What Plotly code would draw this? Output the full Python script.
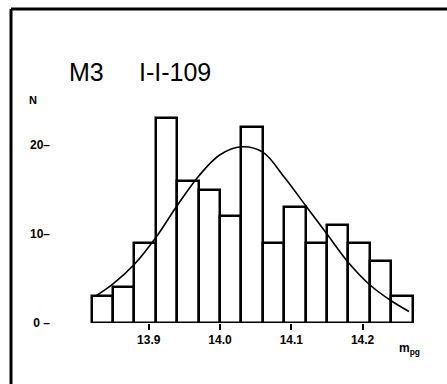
import plotly.graph_objects as go

# ---- data ----
bin_left = [13.82, 13.85, 13.88, 13.91, 13.94, 13.97, 14.00, 14.03,
            14.06, 14.09, 14.12, 14.15, 14.18, 14.21, 14.24]
counts = [3, 4, 9, 23, 16, 15, 12, 22, 9, 13, 9, 11, 9, 7, 3]
bin_width = 0.03

curve_x = [13.825, 13.85, 13.88, 13.91, 13.94, 13.97, 14.00, 14.03, 14.06,
           14.09, 14.12, 14.15, 14.18, 14.21, 14.24, 14.265]
curve_y = [3.0, 4.4, 6.6, 9.6, 13.2, 16.5, 18.9, 19.8, 19.2,
           16.4, 13.2, 10.0, 6.8, 4.3, 2.5, 1.3]

x_tick_vals = [13.9, 14.0, 14.1, 14.2]
x_tick_text = ["13.9", "14.0", "14.1", "14.2"]
y_tick_vals = [0, 10, 20]
y_tick_text = ["0 \u2013", "10\u2013", "20\u2013"]

# ---- layout geometry (pixels) ----
W, H = 447, 384
ML, MR, MT, MB = 60, 20, 40, 61
PW, PH = W - ML - MR, H - MT - MB

def px(xp):
    return (xp - ML) / PW

def py(yp):
    return (H - MB - yp) / PH

centers = [b + bin_width / 2 for b in bin_left]

fig = go.Figure()
fig.add_trace(go.Bar(
    x=centers, y=counts, width=bin_width,
    marker=dict(color="white", line=dict(color="black", width=2.5)),
    cliponaxis=False, showlegend=False, hoverinfo="skip",
))
fig.add_trace(go.Scatter(
    x=curve_x, y=curve_y, mode="lines",
    line=dict(color="black", width=1.6, shape="spline", smoothing=1.0),
    cliponaxis=False, showlegend=False, hoverinfo="skip",
))

tick_font = dict(family="Liberation Sans Narrow, Liberation Sans, Arial, sans-serif",
                 size=12, color="black", weight="bold")

fig.update_layout(
    width=W, height=H,
    margin=dict(l=ML, r=MR, t=MT, b=MB, pad=0),
    paper_bgcolor="white", plot_bgcolor="white",
    bargap=0,
    xaxis=dict(
        range=[13.7756, 14.2903], showgrid=False, zeroline=False, showline=False,
        tickmode="array", tickvals=x_tick_vals, ticktext=x_tick_text,
        ticks="outside", ticklen=6, tickwidth=2, tickcolor="black",
        tickfont=tick_font, fixedrange=True,
    ),
    yaxis=dict(
        range=[0, PH / 8.9], showgrid=False, zeroline=False, showline=False,
        tickmode="array", tickvals=y_tick_vals, ticktext=y_tick_text,
        ticks="", ticklabelstandoff=9,
        tickfont=tick_font, fixedrange=True,
    ),
    font=dict(family="Liberation Sans, Arial, sans-serif", color="black"),
    shapes=[
        dict(type="line", xref="paper", yref="paper",
             x0=px(11), x1=px(447), y0=py(9), y1=py(9),
             line=dict(color="black", width=3)),
        dict(type="line", xref="paper", yref="paper",
             x0=px(11), x1=px(11), y0=py(9), y1=py(384),
             line=dict(color="black", width=3)),
    ],
    annotations=[
        dict(text="M3", xref="paper", yref="paper", x=px(67), y=py(72),
             xanchor="left", yanchor="middle", showarrow=False,
             font=dict(family="Liberation Sans, Arial, sans-serif", size=25)),
        dict(text="I-I-109", xref="paper", yref="paper", x=px(137), y=py(72),
             xanchor="left", yanchor="middle", showarrow=False,
             font=dict(family="Liberation Sans, Arial, sans-serif", size=25)),
        dict(text="N", xref="paper", yref="paper", x=px(33), y=py(100),
             xanchor="center", yanchor="middle", showarrow=False,
             font=dict(family="Liberation Sans, Arial, sans-serif", size=11, weight="bold")),
        dict(text="m<sub>pg</sub>", xref="paper", yref="paper", x=px(397), y=py(349),
             xanchor="left", yanchor="middle", showarrow=False,
             font=dict(family="Liberation Sans, Arial, sans-serif", size=12, weight="bold")),
    ],
)

fig.write_html("out.html")
